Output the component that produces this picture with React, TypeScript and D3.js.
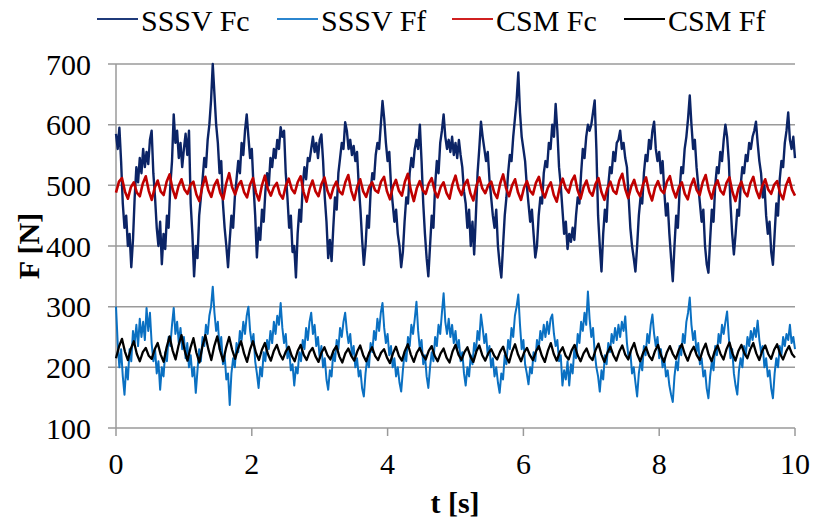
import React from "react";
import * as d3 from "d3";

// ---- Data ----
// SSSV Fc, sampled every 0.025 s (t = 0 .. 10 s)
const SSSV_FC: number[] = [
  585,560,595,540,470,430,450,400,420,365,410,480,530,505,545,520,560,530,555,535,575,590,520,480,430,400,440,370,420,395,450,430,500,540,617,570,590,545,570,530,
  560,585,550,590,470,420,350,400,380,450,480,510,545,530,575,600,640,700,650,600,570,520,540,470,430,400,365,410,450,430,480,510,540,520,570,550,590,617,580,545,
  560,500,450,381,430,410,460,440,490,520,500,545,530,560,545,575,560,596,580,590,520,480,430,450,390,400,348,420,460,440,500,530,510,545,540,560,580,555,570,545,
  575,584,540,480,440,380,410,375,430,480,460,520,545,570,560,604,590,560,575,550,565,540,555,500,460,410,369,400,450,430,490,520,510,550,570,560,600,639,610,570,
  540,555,500,470,440,460,420,400,365,390,440,480,470,520,545,530,560,575,560,600,540,470,420,380,350,400,450,430,500,540,520,570,590,617,580,560,575,555,580,550,
  570,545,575,550,530,490,470,430,460,400,440,386,450,520,560,605,580,560,540,555,510,480,450,430,460,400,370,348,400,450,480,520,550,540,580,610,640,686,620,580,
  560,540,500,470,440,460,420,381,400,450,480,470,520,540,530,570,560,600,580,634,590,530,500,460,420,440,395,420,407,430,410,450,480,470,520,560,545,580,600,590,
  600,620,640,560,450,400,358,420,460,440,500,530,520,555,540,570,575,590,560,570,545,530,480,430,400,380,358,400,450,480,470,520,550,540,575,560,590,605,560,540,
  555,520,540,490,450,470,420,380,342,400,450,430,490,530,520,560,580,610,648,600,560,575,530,500,470,440,460,400,370,356,410,460,440,500,530,520,555,540,575,600,
  580,540,470,420,386,420,460,450,500,530,520,550,540,570,560,580,590,605,570,540,520,480,500,450,420,440,390,369,420,470,450,510,540,530,570,590,620,575,560,580,
  545,
];

// SSSV Ff, sampled every 0.025 s
const SSSV_FF: number[] = [
  300,240,200,230,185,155,200,180,230,210,260,240,270,235,280,250,275,245,298,260,290,240,210,230,190,210,163,200,185,225,210,250,235,270,298,255,275,240,265,230,
  250,215,240,200,220,185,200,158,195,230,210,250,235,270,255,285,300,333,290,260,275,230,250,205,220,180,190,138,190,215,200,240,225,260,245,275,255,285,300,260,
  240,255,210,190,166,200,185,225,210,245,230,260,240,275,255,285,270,306,265,240,255,215,230,195,205,170,200,190,225,210,245,230,265,245,275,290,255,270,235,250,
  215,235,200,215,180,163,195,185,225,210,245,230,265,250,275,290,260,240,255,220,235,200,215,185,195,165,152,190,215,200,240,225,260,245,280,260,290,306,265,240,
  255,220,235,200,215,185,200,175,160,195,225,210,250,235,270,255,280,308,260,230,245,205,220,185,166,200,225,210,250,235,270,255,290,322,275,255,280,250,270,240,
  260,230,245,210,225,190,170,200,185,220,205,240,225,260,245,287,265,240,255,220,235,200,215,185,200,175,158,190,180,220,205,245,230,265,250,285,300,320,270,230,
  245,205,190,172,200,190,225,210,245,230,260,245,270,250,275,255,280,287,255,235,245,210,220,170,195,180,210,170,205,190,230,215,255,240,275,260,290,270,325,280,
  250,265,225,200,185,160,195,180,220,205,240,225,255,240,265,245,270,250,275,260,284,240,215,225,190,200,175,152,190,210,195,235,220,255,240,270,287,255,235,250,
  215,230,200,215,185,195,170,155,143,185,210,195,235,220,255,240,275,290,315,270,245,260,225,240,205,215,185,195,165,149,185,210,195,235,220,255,240,270,255,275,
  292,250,215,230,190,170,155,195,215,200,235,220,250,235,260,245,265,250,277,245,225,235,200,215,185,195,165,149,190,215,200,235,220,250,235,255,245,270,240,250,
  230,
];

// CSM Fc, four samples per oscillation (trough, slope, peak, slope), about 5.7 Hz
const CSM_FC: number[] = [
  488,506,512,490,478,497,505,488,482,503,515,491,476,496,508,490,484,506,518,494,
  479,499,510,493,486,501,506,485,474,498,514,492,481,500,509,488,477,503,520,497,
  485,500,507,489,480,501,512,488,475,500,516,494,483,497,504,486,478,499,511,494,
  487,505,515,489,473,495,508,490,482,502,513,491,479,496,506,490,485,505,517,491,
  476,498,510,490,481,497,505,492,488,506,514,490,477,498,509,491,483,506,519,492,
  474,495,507,492,486,503,512,491,480,497,505,487,478,502,516,495,484,501,509,487,
  475,499,513,495,487,500,506,488,479,503,518,495,482,500,510,488,476,496,507,491,
  485,504,514,492,480,496,505,484,473,497,511,495,488,507,516,492,478,497,508,490,
  483,502,512,489,476,495,506,491,486,508,519,494,479,498,509,491,482,502,513,489,
  475,496,507,492,487,506,515,493,480,497,505,486,477,499,511,492,484,505,517,493,
  478,498,508,491,485,504,513,489,474,495,506,489,482,503,514,492,479,499,510,493,
  486,501,507,487,477,500,512,493,483,
];

// CSM Ff, four samples per oscillation (trough, slope, peak, slope)
const CSM_FF: number[] = [
  215,234,247,226,212,231,243,222,210,225,232,219,214,230,240,221,209,233,251,228,
  213,236,253,229,211,232,248,224,208,234,253,230,212,235,251,227,210,233,250,229,
  214,231,243,223,209,229,243,224,212,229,240,222,211,227,237,222,213,226,234,219,
  210,227,237,221,212,225,232,218,209,224,233,220,213,227,235,218,208,223,231,219,
  211,226,236,220,210,224,233,219,212,224,230,216,207,223,234,219,211,227,238,221,
  209,224,232,220,213,227,235,219,210,223,231,216,208,226,237,221,212,225,233,218,
  209,226,236,220,211,223,230,219,213,226,234,218,208,226,238,221,210,224,232,220,
  212,226,235,219,209,227,240,222,211,225,233,219,213,228,237,220,210,223,231,218,
  212,228,239,221,209,224,234,220,211,226,236,221,213,229,240,222,210,224,233,219,
  212,227,237,220,209,225,235,222,214,229,238,222,211,225,234,220,212,228,239,221,
  210,226,236,222,213,230,241,223,211,227,237,223,215,230,240,223,212,227,236,222,
  214,229,238,222,213,226,235,222,216,
];

const SERIES_NAMES = ["SSSV Fc", "SSSV Ff", "CSM Fc", "CSM Ff"];
const SERIES_COLORS = ["#0b2466", "#0a70c2", "#c00000", "#000000"];
const SERIES_WIDTHS = [2.4, 2.0, 2.6, 2.3];
const LEGEND_COLORS = ["#1f3a7a", "#2b86cf", "#d02020", "#000000"];
const X_TICKS = [0, 2, 4, 6, 8, 10];
const Y_TICKS = [100, 200, 300, 400, 500, 600, 700];
const T_MAX = 10;

const W = 815;
const H = 521;
const M = { left: 116, right: 795, top: 64, bottom: 428 };
const FONT = "'Liberation Serif', 'Times New Roman', serif";
const FS = 30;

function toPoints(vals: number[]): [number, number][] {
  const dt = T_MAX / (vals.length - 1);
  return vals.map((v, i) => [i * dt, v]);
}

export default function App() {
  const x = d3.scaleLinear().domain([0, T_MAX]).range([M.left, M.right]);
  const y = d3.scaleLinear().domain([100, 700]).range([M.bottom, M.top]);
  const line = d3
    .line<[number, number]>()
    .x((d) => x(d[0]))
    .y((d) => y(d[1]));

  const data = [SSSV_FC, SSSV_FF, CSM_FC, CSM_FF].map(toPoints);
  const legendX = [97, 277, 452, 624];

  return (
    <svg
      width={W}
      height={H}
      style={{ position: "absolute", left: 0, top: 0, background: "#fff" }}
      fontFamily={FONT}
    >
      {/* gridlines */}
      {Y_TICKS.map((t) => (
        <line
          key={"g" + t}
          x1={M.left - 8}
          x2={M.right}
          y1={y(t)}
          y2={y(t)}
          stroke="#9a9a9a"
          strokeWidth={1.5}
        />
      ))}
      {/* y axis */}
      <line x1={M.left} x2={M.left} y1={M.top} y2={M.bottom} stroke="#9a9a9a" strokeWidth={1.5} />
      {/* x ticks */}
      {X_TICKS.map((t) => (
        <line
          key={"xt" + t}
          x1={x(t)}
          x2={x(t)}
          y1={M.bottom}
          y2={M.bottom + 8}
          stroke="#9a9a9a"
          strokeWidth={1.5}
        />
      ))}
      {/* series */}
      {data.map((d, i) => (
        <path
          key={"s" + i}
          d={line(d) || ""}
          fill="none"
          stroke={SERIES_COLORS[i]}
          strokeWidth={SERIES_WIDTHS[i]}
          strokeLinejoin="round"
        />
      ))}
      {/* y tick labels */}
      {Y_TICKS.map((t) => (
        <text key={"yl" + t} x={91} y={y(t)} dy="0.35em" textAnchor="end" fontSize={FS}>
          {t}
        </text>
      ))}
      {/* x tick labels */}
      {X_TICKS.map((t) => (
        <text key={"xl" + t} x={x(t)} y={463} dy="0.35em" textAnchor="middle" fontSize={FS}>
          {t}
        </text>
      ))}
      {/* axis titles */}
      <text x={455} y={502} dy="0.35em" textAnchor="middle" fontSize={FS} fontWeight="bold">
        t [s]
      </text>
      <text
        transform={`translate(28,${(M.top + M.bottom) / 2}) rotate(-90)`}
        dy="0.35em"
        textAnchor="middle"
        fontSize={FS}
        fontWeight="bold"
      >
        F [N]
      </text>
      {/* legend */}
      {SERIES_NAMES.map((n, i) => (
        <g key={"lg" + i}>
          <line
            x1={legendX[i]}
            x2={legendX[i] + 41}
            y1={19}
            y2={19}
            stroke={LEGEND_COLORS[i]}
            strokeWidth={2}
          />
          <text x={legendX[i] + 44} y={20} dy="0.35em" fontSize={FS}>
            {n}
          </text>
        </g>
      ))}
    </svg>
  );
}
